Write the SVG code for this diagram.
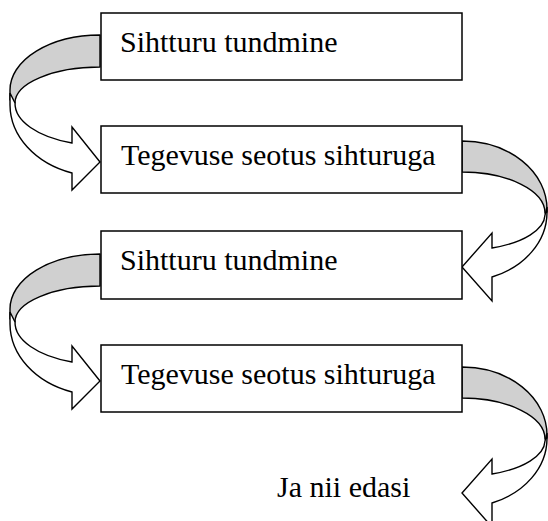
<svg xmlns="http://www.w3.org/2000/svg" width="548" height="521" viewBox="0 0 548 521">
<style>
.box{fill:#fff;stroke:#000;stroke-width:1.5}
.lbl{font-family:"Liberation Serif","Times New Roman",serif;font-size:30px;fill:#000}
.back{fill:#d0d0d0;stroke:#000;stroke-width:1.4;stroke-linejoin:round}
.front{fill:#fff;stroke:#000;stroke-width:1.4;stroke-linejoin:miter}
</style>
<defs>
<g id="leftArrow">
<path class="back" d="M100,35 A90,55 0 0 0 10,90 L10,100 L15,103 A85,36 0 0 1 100,67 Z"/>
<path class="front" d="M10,93 L10,105 A90,72 0 0 0 72,173 L72,190 L100,162 L72,127 L72,143 A85,42 0 0 1 15,103 Z"/>
</g>
<g id="rightArrow">
<path class="back" d="M462,141 A85,68 0 0 1 547,209 L547,212 L545,213 A83,41 0 0 0 462,172 Z"/>
<path class="front" d="M547,207 L547,213 A85,69 0 0 1 492,277 L492,301 L462,267 L492,233 L492,248 A82,36 0 0 0 545,215 Z"/>
</g>
</defs>
<g id="connectors">
<use href="#leftArrow"/>
<use href="#rightArrow"/>
<use href="#leftArrow" transform="translate(0,219)"/>
<use href="#rightArrow" transform="translate(0,226)"/>
</g>
<g id="node1">
<rect class="box" x="101" y="13" width="361" height="67"/>
<text class="lbl" x="120" y="52">Sihtturu tundmine</text>
</g>
<g id="node2">
<rect class="box" x="101" y="126" width="361" height="67"/>
<text class="lbl" x="121" y="165">Tegevuse seotus sihturuga</text>
</g>
<g id="node3">
<rect class="box" x="101" y="231" width="361" height="68"/>
<text class="lbl" x="120" y="270">Sihtturu tundmine</text>
</g>
<g id="node4">
<rect class="box" x="101" y="345" width="361" height="67"/>
<text class="lbl" x="121" y="384">Tegevuse seotus sihturuga</text>
</g>
<g id="node5">
<text class="lbl" x="277" y="497">Ja nii edasi</text>
</g>
</svg>
